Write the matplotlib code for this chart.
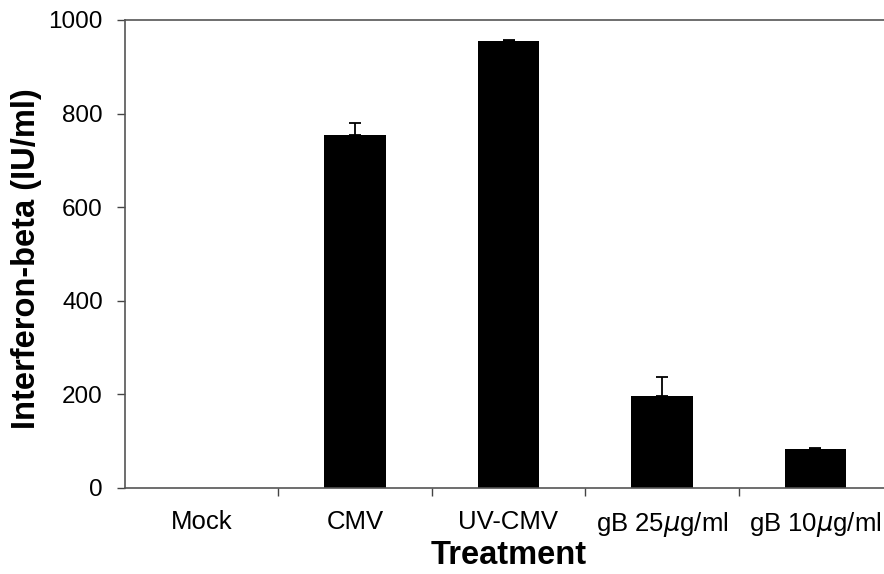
import matplotlib
matplotlib.use('Agg')
import matplotlib.pyplot as plt

plt.rcParams['font.family'] = ['Liberation Sans', 'DejaVu Sans']

# data
treatments = ['Mock', 'CMV', 'UV-CMV', 'gB 25$\\mu$g/ml', 'gB 10$\\mu$g/ml']
ifn_beta = [0, 754, 955, 197, 83]
err_up = [0, 26, 3, 40, 2]

fig = plt.figure(figsize=(8.84, 5.74), dpi=100)
fig.set_facecolor('white')
# axes runs a bit past the right edge of the picture, as in the scan
ax = fig.add_axes([125/884., 86/574., 767/884., 468/574.])

x = list(range(len(treatments)))
ax.bar(x, ifn_beta, width=0.40, color='black', zorder=2)

# error bars only where there is one (no cap on the Mock baseline)
ex = [i for i in x if err_up[i] > 0]
ey = [ifn_beta[i] for i in ex]
ee = [err_up[i] for i in ex]
ax.errorbar(ex, ey, yerr=[[0]*len(ex), ee], fmt='none',
            ecolor='black', elinewidth=1.3, capsize=4, capthick=1.3, zorder=3)

ax.set_xlim(-0.5, 4.5)
ax.set_ylim(0, 1000)
ax.set_yticks([0, 200, 400, 600, 800, 1000])

ax.set_xticks(x)
ax.set_xticklabels(treatments)
ax.set_xticks([0.5, 1.5, 2.5, 3.5], minor=True)
ax.tick_params(axis='x', which='major', length=0, pad=16, labelsize=18.5)
ax.tick_params(axis='x', which='minor', length=6, width=1, color='#444444', direction='out')
ax.tick_params(axis='y', length=6, width=1, color='#444444', pad=10, labelsize=17.5)

for s in ['left', 'bottom', 'top']:
    ax.spines[s].set_color('#555555')
    ax.spines[s].set_linewidth(1.2)
ax.spines['right'].set_visible(False)

ax.set_ylabel('Interferon-beta (IU/ml)', fontsize=23.5, fontweight='bold')
ax.yaxis.set_label_coords(-0.128, 0.49)
ax.yaxis.label.set_va('center')
ax.set_xlabel('Treatment', fontsize=23.5, fontweight='bold')
ax.xaxis.label.set_va('baseline')
ax.xaxis.set_label_coords(0.5, -0.163)

fig.savefig('out.png', dpi=100, facecolor='white')
